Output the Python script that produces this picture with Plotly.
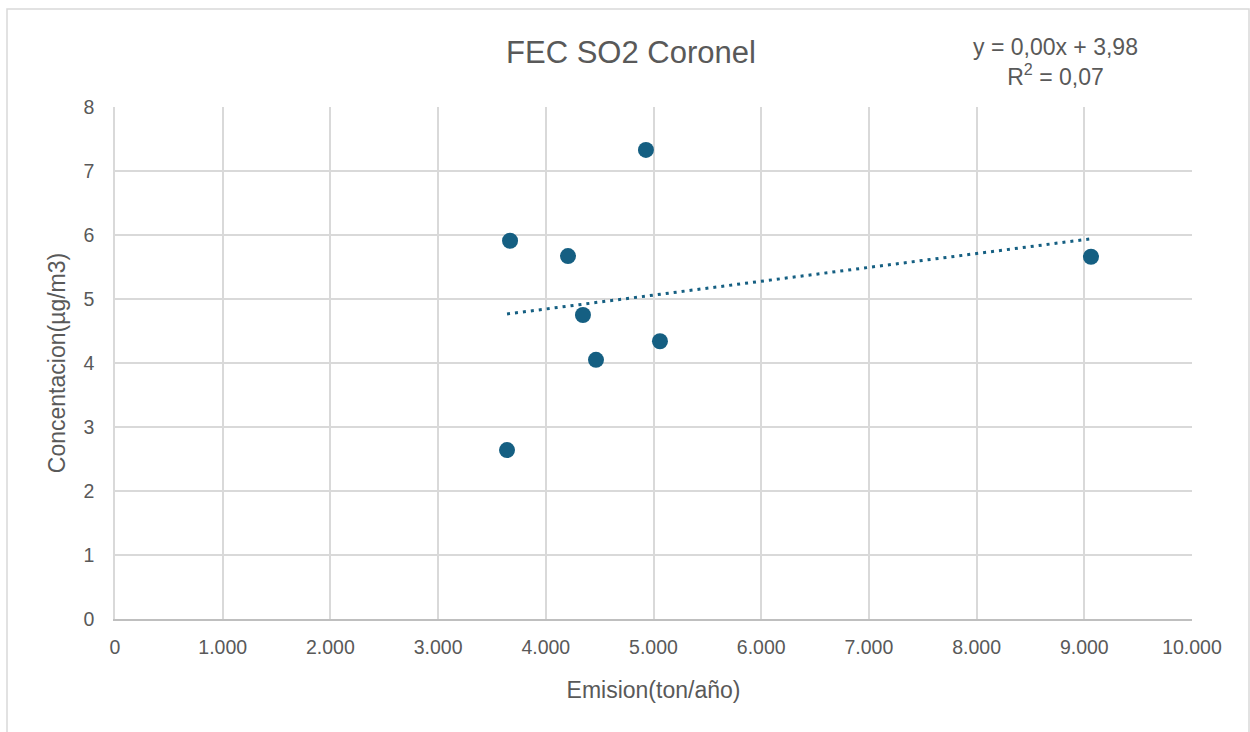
import numpy as np
import plotly.graph_objects as go

# datos
emision = [3640, 3668, 4206, 4345, 4466, 4930, 5060, 9062]
concentracion = [2.64, 5.91, 5.67, 4.75, 4.05, 7.33, 4.34, 5.66]
x_ticks = [0, 1000, 2000, 3000, 4000, 5000, 6000, 7000, 8000, 9000, 10000]
y_ticks = [0, 1, 2, 3, 4, 5, 6, 7, 8]

color = "#155f82"
gris = "#595959"
fuente = "Liberation Sans"

# linea de tendencia lineal
m, b = np.polyfit(emision, concentracion, 1)
xt = [min(emision), max(emision)]
yt = [m * v + b for v in xt]

fig = go.Figure()
fig.add_trace(go.Scatter(x=xt, y=yt, mode="lines",
                         line=dict(color=color, width=3, dash="3px,5px"),
                         hoverinfo="skip"))
fig.add_trace(go.Scatter(x=emision, y=concentracion, mode="markers",
                         marker=dict(color=color, size=16)))

fig.update_layout(
    width=1250, height=732,
    margin=dict(l=115, r=58, t=107, b=113),
    paper_bgcolor="white", plot_bgcolor="white",
    showlegend=False,
    separators=",.",
    font=dict(family=fuente, color=gris),
    title=dict(text="FEC SO2 Coronel", x=631 / 1250,
               xanchor="center", y=1 - 52 / 732, yanchor="middle",
               font=dict(size=31, color=gris, family=fuente)),
)
fig.update_xaxes(range=[0, 10000], tickvals=x_ticks, tickformat=",d",
                 showgrid=True, gridcolor="#d9d9d9", gridwidth=1.5,
                 showline=True, linecolor="#bfbfbf", linewidth=1.5,
                 zeroline=False, ticklabelstandoff=10,
                 tickfont=dict(size=19.5, color=gris),
                 title=dict(text="Emision(ton/año)", standoff=25,
                            font=dict(size=23, color=gris)))
fig.update_yaxes(range=[0, 8], tickvals=y_ticks,
                 showgrid=True, gridcolor="#d9d9d9", gridwidth=1.5,
                 showline=True, linecolor="#d9d9d9", linewidth=1.5,
                 zeroline=False, ticklabelstandoff=15,
                 tickfont=dict(size=19.5, color=gris),
                 title=dict(text="Concentacion(µg/m3)", standoff=11,
                            font=dict(size=23, color=gris)))

fig.add_annotation(xref="paper", yref="paper",
                   x=(1055 - 115) / 1077, y=(619 - 62) / 512,
                   xanchor="center", yanchor="middle",
                   text="y = 0,00x + 3,98<br>R<sup>2</sup> = 0,07",
                   showarrow=False, align="center",
                   font=dict(size=23, color=gris, family=fuente))

# borde del area del grafico
fig.add_shape(type="rect", xref="paper", yref="paper",
              x0=(7 - 115) / 1077, x1=(1249 - 115) / 1077,
              y0=(619 - 745) / 512, y1=(619 - 9) / 512,
              line=dict(color="#d9d9d9", width=1.5), layer="below")

# sin margen del body para que el grafico quede en 0,0
fig.write_html("out.html", config={"displayModeBar": False},
               post_script="document.body.style.margin='0';")
